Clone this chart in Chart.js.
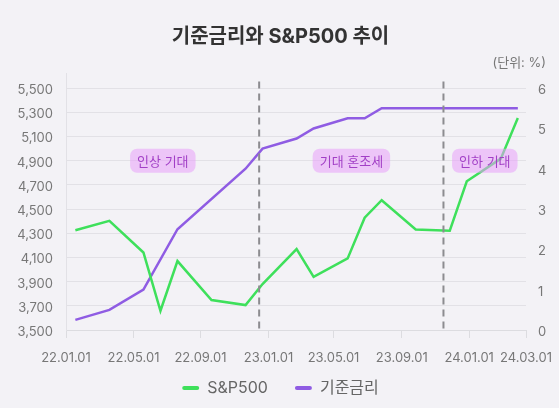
<!DOCTYPE html>
<html>
<head>
<meta charset="utf-8">
<script src="https://cdn.jsdelivr.net/npm/chart.js@4/dist/chart.umd.min.js"></script>
<style>
  html, body { margin: 0; padding: 0; background: #f3f2f6; }
</style>
</head>
<body>
<canvas id="rateChart" width="559" height="408"></canvas>
<script>
// monthly slots, 22.01 ~ 24.03 (x value = index)
const months = ['22.01','22.02','22.03','22.04','22.05','22.06','22.07','22.08','22.09','22.10','22.11','22.12',
                '23.01','23.02','23.03','23.04','23.05','23.06','23.07','23.08','23.09','23.10','23.11','23.12',
                '24.01','24.02','24.03'];
// S&P500 (left axis), null = no point in that month
const sp500 = [4325, null, 4402, null, 4141, 3659, 4070, null, 3748, null, 3706, 3880,
               null, 4169, 3940, null, 4092, 4429, 4573, null, 4331, null, 4321, 4730,
               null, 4917, 5252];
// 기준금리 % (right axis)
const baseRate = [0.25, null, 0.5, null, 1.0, null, 2.5, null, null, null, 4.0, 4.5,
                  null, 4.75, 5.0, null, 5.25, 5.25, 5.5, null, null, null, null, null,
                  null, null, 5.5];

const spTicks = [3500, 3700, 3900, 4100, 4300, 4500, 4700, 4900, 5100, 5300, 5500];
const rateTicks = [0, 1, 2, 3, 4, 5, 6];
const xTickLabels = ['22.01.01', '22.05.01', '22.09.01', '23.01.01', '23.05.01', '23.09.01', '24.01.01', '24.03.01'];
const xTickPos = [-0.55, 3.42, 7.35, 11.35, 15.17, 19.18, 23.14, 26.48];

// phase markers
const phaseBreaks = [10.8, 21.63];
const phaseLabels = ['인상 기대', '기대 혼조세', '인하 기대'];
const phasePos = [5.14, 16.22, 24.06];
const phaseLevel = 4900;

const green = '#3ee05b';
const purple = '#8f5ce3';
const FONT = "Inter, 'Noto Sans CJK KR', sans-serif";
Chart.defaults.font.family = FONT;

function toPoints(arr) {
    return arr.map((v, i) => ({ x: i, y: v })).filter(p => p.y !== null);
}

const phasePlugin = {
    id: 'phases',
    afterLayout(chart) {
        // x labels sit below the (short) x box, don't let them get clipped
        chart.scales.x.bottom = chart.height;
    },
    afterDatasetsDraw(chart) {
        const { ctx, chartArea, scales } = chart;
        ctx.save();
        ctx.strokeStyle = '#8c8c90';
        ctx.lineWidth = 2;
        ctx.setLineDash([7, 5]);
        phaseBreaks.forEach(m => {
            const x = scales.x.getPixelForValue(m);
            ctx.beginPath();
            ctx.moveTo(x, chartArea.top + 8);
            ctx.lineTo(x, chartArea.bottom);
            ctx.stroke();
        });
        ctx.setLineDash([]);
        ctx.font = '13px ' + FONT;
        ctx.textAlign = 'center';
        ctx.textBaseline = 'middle';
        phaseLabels.forEach((t, i) => {
            const x = scales.x.getPixelForValue(phasePos[i]);
            const y = scales.y.getPixelForValue(phaseLevel);
            const w = ctx.measureText(t).width + 14, h = 24;
            ctx.fillStyle = 'rgba(232,160,250,0.55)';
            ctx.beginPath();
            ctx.roundRect(x - w / 2, y - h / 2, w, h, 7);
            ctx.fill();
            ctx.fillStyle = '#a23fc6';
            ctx.fillText(t, x, y + 1);
        });
        ctx.restore();
    }
};

const ctx = document.getElementById('rateChart').getContext('2d');
new Chart(ctx, {
    type: 'line',
    data: {
        datasets: [{
            label: 'S&P500',
            data: toPoints(sp500),
            yAxisID: 'y',
            borderColor: green,
            backgroundColor: green,
            borderWidth: 2.5,
            pointRadius: 0,
            tension: 0
        }, {
            label: '기준금리',
            data: toPoints(baseRate),
            yAxisID: 'y1',
            borderColor: purple,
            backgroundColor: purple,
            borderWidth: 2.5,
            pointRadius: 0,
            tension: 0
        }]
    },
    options: {
        responsive: false,
        animation: false,
        layout: { padding: { left: 15, right: 13, top: 0, bottom: 2 } },
        plugins: {
            title: {
                display: true,
                text: '기준금리와 S&P500 추이',
                color: '#333',
                font: { size: 20, weight: 'bold' },
                padding: { top: 25, bottom: 6 }
            },
            subtitle: {
                display: true,
                text: '(단위: %)',
                align: 'end',
                color: '#777',
                font: { size: 13 },
                padding: { top: 0, bottom: 3 }
            },
            legend: {
                position: 'bottom',
                labels: {
                    boxWidth: 17,
                    boxHeight: 4,
                    padding: 27,
                    color: '#666',
                    font: { size: 16 },
                    generateLabels: chart => Chart.defaults.plugins.legend.labels.generateLabels(chart)
                        .map(item => Object.assign(item, { lineWidth: 0, borderRadius: 2 }))
                }
            },
            tooltip: { enabled: false }
        },
        scales: {
            x: {
                type: 'linear',
                min: xTickPos[0],
                max: xTickPos[xTickPos.length - 1],
                afterBuildTicks: s => { s.ticks = xTickPos.map(v => ({ value: v })); },
                afterFit: s => { s.height = 23; },
                grid: { drawOnChartArea: false, tickLength: 8, color: '#dcdce0' },
                border: { color: '#dcdce0' },
                ticks: {
                    autoSkip: false,
                    maxRotation: 0,
                    padding: 6,
                    color: '#777',
                    font: { size: 13, lineHeight: 2.15 },
                    callback: (v, i) => xTickLabels[i]
                }
            },
            y: {
                position: 'left',
                min: 3500,
                max: 5620,
                afterBuildTicks: s => { s.ticks = spTicks.map(v => ({ value: v })); },
                afterFit: s => { s.width = 51; },
                grid: { color: '#e2e1e6', drawTicks: false },
                border: { color: '#e2e1e6' },
                ticks: { padding: 13, labelOffset: 2, color: '#777', font: { size: 13 }, callback: v => v.toLocaleString('en-US') }
            },
            y1: {
                position: 'right',
                min: 0,
                max: 6.36,
                afterBuildTicks: s => { s.ticks = rateTicks.map(v => ({ value: v })); },
                afterFit: s => { s.width = 20; },
                grid: { display: false, drawTicks: false },
                border: { display: false },
                ticks: { padding: 12, labelOffset: 2, color: '#777', font: { size: 13 } }
            }
        }
    },
    plugins: [phasePlugin]
});
</script>
</body>
</html>
